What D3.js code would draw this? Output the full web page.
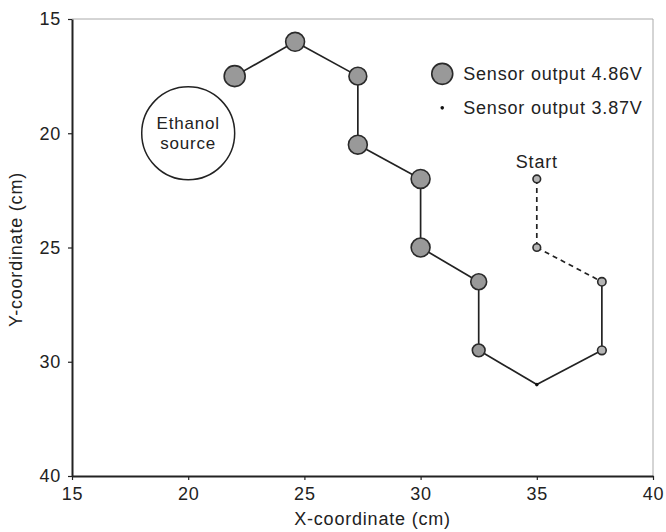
<!DOCTYPE html>
<html>
<head>
<meta charset="utf-8">
<script src="https://cdn.jsdelivr.net/npm/d3@7"></script>
<style>
  body { margin: 0; background: #fff; }
  text { font-family: "Liberation Sans", Arial, sans-serif; fill: #222; letter-spacing: 0.8px; }
</style>
</head>
<body>
<div id="chart"></div>
<script>
// path of the robot, in visiting order (from Start)
var xCoords = [35, 35, 37.8, 37.8, 35, 32.5, 32.5, 30, 30, 27.3, 27.3, 24.6, 22];
var yCoords = [22, 25, 26.5, 29.5, 31, 29.5, 26.5, 25, 22, 20.5, 17.5, 16, 17.5];
// estimated sensor output (V) at each point -> marker size
var sensorV = [4.10, 4.10, 4.14, 4.16, 3.87, 4.39, 4.57, 4.74, 4.74, 4.74, 4.68, 4.74, 4.86];
// the first two legs are dashed
var dashedLegs = 2;

var xTicks = [15, 20, 25, 30, 35, 40];
var yTicks = [15, 20, 25, 30, 35];
var yTickLabels = ["15", "20", "25", "30", "40"];

var legendV = [4.86, 3.87];
var legendLabels = ["Sensor output 4.86V", "Sensor output 3.87V"];

var source = { x: 20, y: 20, r: 2, label: ["Ethanol", "source"] };

var svgWidth = 666;
var svgHeight = 532;
var margin = { top: 19, right: 13, bottom: 56, left: 72 };
var width = svgWidth - margin.left - margin.right;
var height = svgHeight - margin.top - margin.bottom;

var svg = d3.select("#chart")
  .append("svg")
  .attr("width", svgWidth)
  .attr("height", svgHeight);

var chartGroup = svg.append("g")
  .attr("transform", `translate(${margin.left}, ${margin.top})`);

var xScale = d3.scaleLinear().domain([15, 40]).range([0, width]);
var yScale = d3.scaleLinear().domain([15, 35]).range([0, height]);
var rScale = d3.scaleLinear().domain([3.87, 4.86]).range([1.8, 10.5]);

// light frame on top and right
chartGroup.append("path")
  .attr("d", `M0,0H${width}V${height}`)
  .attr("fill", "none")
  .attr("stroke", "#aaa")
  .attr("stroke-width", 1);

// axes
var bottomAxis = d3.axisBottom(xScale).tickValues(xTicks).tickSize(4).tickSizeOuter(0);
var leftAxis = d3.axisLeft(yScale).tickValues(yTicks).tickSize(4).tickSizeOuter(0)
  .tickFormat((d, i) => yTickLabels[i]);

var gx = chartGroup.append("g")
  .attr("transform", `translate(0, ${height})`)
  .call(bottomAxis);
var gy = chartGroup.append("g").call(leftAxis);

[gx, gy].forEach(function(g) {
  g.select(".domain").attr("stroke", "#222").attr("stroke-width", 2);
  g.selectAll(".tick line").attr("stroke", "#222").attr("stroke-width", 1.2);
  g.selectAll(".tick text")
    .style("font-size", "18px")
    .style("font-family", "'Liberation Sans', Arial, sans-serif")
    .attr("fill", "#222");
});
gx.selectAll(".tick text").attr("dy", "0.95em");
gy.selectAll(".tick text").attr("x", -11);

// ethanol source
chartGroup.append("circle")
  .attr("cx", xScale(source.x))
  .attr("cy", yScale(source.y))
  .attr("r", xScale(source.x + source.r) - xScale(source.x))
  .attr("fill", "none")
  .attr("stroke", "#222")
  .attr("stroke-width", 1.5);

chartGroup.append("text")
  .attr("x", xScale(source.x))
  .attr("y", yScale(source.y))
  .attr("text-anchor", "middle")
  .style("font-size", "17px")
  .selectAll("tspan")
  .data(source.label)
  .enter()
  .append("tspan")
  .attr("x", xScale(source.x))
  .attr("dy", (d, i) => i == 0 ? "-0.25em" : "1.15em")
  .text(d => d);

// path legs
var pts = xCoords.map((x, i) => ({ x: x, y: yCoords[i], v: sensorV[i] }));
var legs = d3.pairs(pts);

chartGroup.selectAll(".leg")
  .data(legs)
  .enter()
  .append("line")
  .attr("class", "leg")
  .attr("x1", d => xScale(d[0].x))
  .attr("y1", d => yScale(d[0].y))
  .attr("x2", d => xScale(d[1].x))
  .attr("y2", d => yScale(d[1].y))
  .attr("stroke", "#222")
  .attr("stroke-width", 1.7)
  .attr("stroke-dasharray", (d, i) => i < dashedLegs ? "5,4" : null);

// markers
chartGroup.selectAll(".pt")
  .data(pts)
  .enter()
  .append("circle")
  .attr("class", "pt")
  .attr("cx", d => xScale(d.x))
  .attr("cy", d => yScale(d.y))
  .attr("r", d => rScale(d.v))
  .attr("fill", d => rScale(d.v) < 2 ? "#111" : rScale(d.v) < 5 ? "#b5b5b5" : "#999")
  .attr("stroke", "#2a2a2a")
  .attr("stroke-width", d => rScale(d.v) < 2 ? 0 : 1.6);

// start label
chartGroup.append("text")
  .attr("x", xScale(xCoords[0]))
  .attr("y", yScale(yCoords[0]) - 11)
  .attr("text-anchor", "middle")
  .style("font-size", "18px")
  .text("Start");

// legend
var legend = chartGroup.append("g")
  .attr("transform", `translate(${xScale(30.2)}, ${yScale(17.4)})`);

var legendItems = legend.selectAll("g")
  .data(legendV)
  .enter()
  .append("g")
  .attr("transform", (d, i) => `translate(0, ${i * 34})`);

legendItems.append("circle")
  .attr("cx", 17)
  .attr("cy", 0)
  .attr("r", d => rScale(d))
  .attr("fill", d => rScale(d) < 2 ? "#111" : "#999")
  .attr("stroke", "#2a2a2a")
  .attr("stroke-width", d => rScale(d) < 2 ? 0 : 1.6);

legendItems.append("text")
  .attr("x", 38)
  .attr("y", 0)
  .attr("dy", "0.36em")
  .style("font-size", "18px")
  .text((d, i) => legendLabels[i]);

// axis titles
chartGroup.append("text")
  .attr("transform", `translate(${width / 2 + 10}, ${height + 49})`)
  .attr("text-anchor", "middle")
  .style("font-size", "18px")
  .text("X-coordinate (cm)");

chartGroup.append("text")
  .attr("transform", "rotate(-90)")
  .attr("x", -yScale(25) - 2)
  .attr("y", -margin.left + 22)
  .attr("text-anchor", "middle")
  .style("font-size", "18px")
  .text("Y-coordinate (cm)");
</script>
</body>
</html>
